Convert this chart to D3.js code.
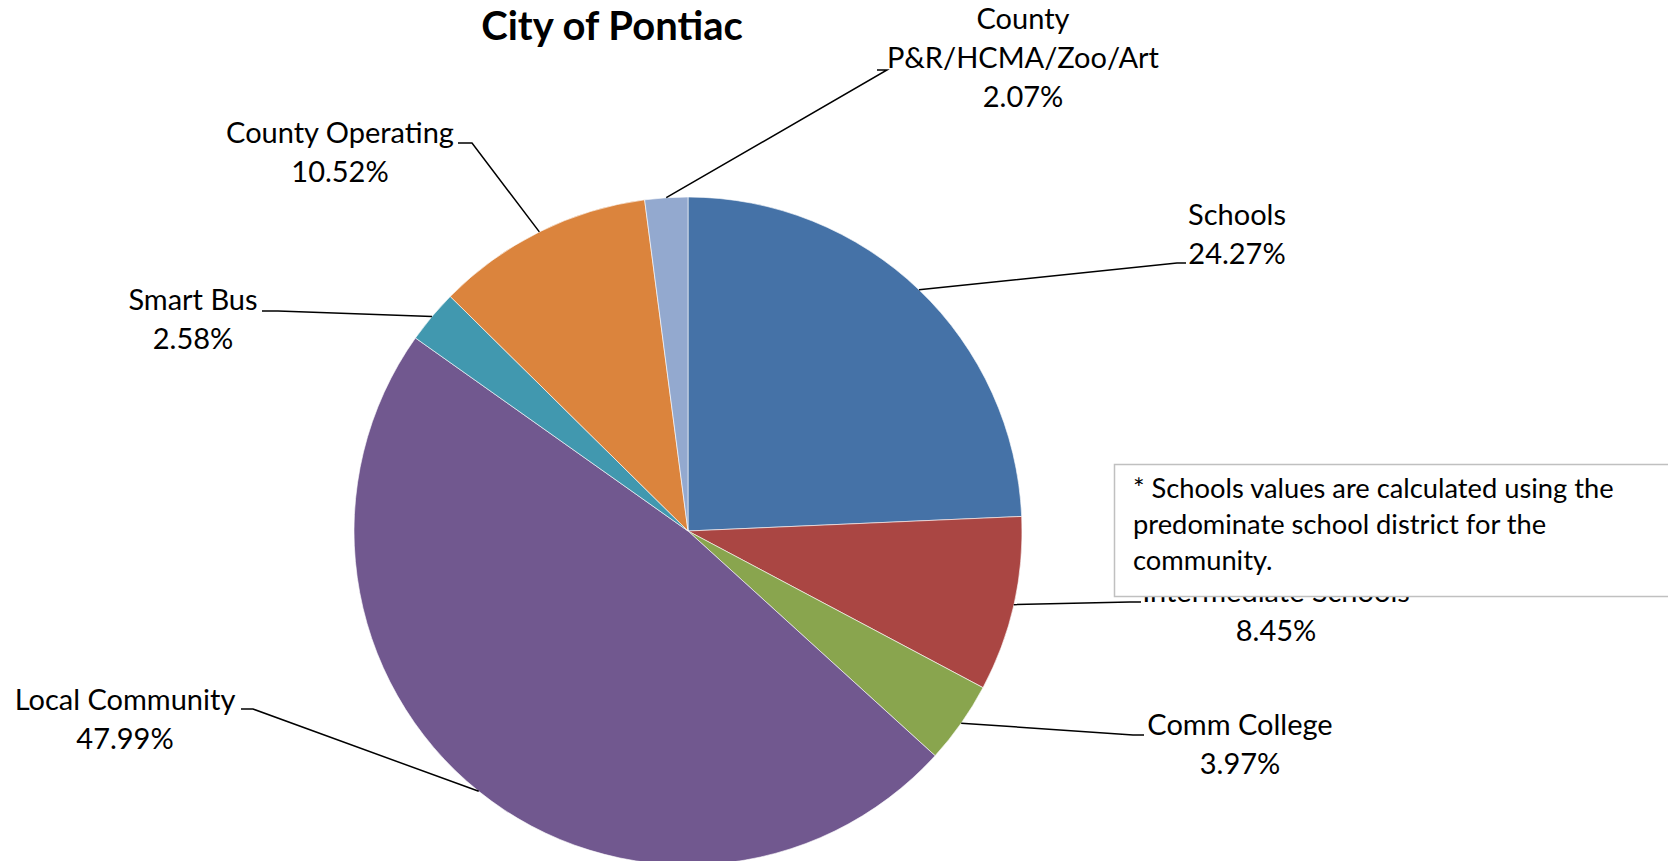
<!DOCTYPE html>
<html><head><meta charset="utf-8">
<script src="https://cdn.jsdelivr.net/npm/d3@7"></script>
<style>html,body{margin:0;padding:0;background:#fff;overflow:hidden}</style>
</head><body>
<svg id="chart" width="1668" height="861"></svg>
<script>
const title = "City of Pontiac";
const categories = ["Schools","Intermediate Schools","Comm College","Local Community","Smart Bus","County Operating","County P&R/HCMA/Zoo/Art"];
const values = [24.27, 8.45, 3.97, 47.99, 2.58, 10.52, 2.07];
const labelLines = [["Schools","24.27%"],["Intermediate Schools","8.45%"],["Comm College","3.97%"],["Local Community","47.99%"],["Smart Bus","2.58%"],["County Operating","10.52%"],["County","P&R/HCMA/Zoo/Art","2.07%"]];
const noteLines = ["* Schools values are calculated using the","predominate school district for the","community."];

// layout (not data)
const colors = ["#4572A7","#AA4643","#89A54E","#71588F","#4198AF","#DB843D","#93A9CF"];
const cx = 688, cy = 531, R = 334;
const fontFam = "Lato, 'Open Sans', sans-serif";
const fs = 29, lh = 39;
// label anchor: [x center, first baseline]; leader: [elbowX, elbowY, endX, endY]
const labelPos = [[1237,225],[1276,602],[1240,735],[125,710],[193,310],[340,143],[1023,29]];
const leader = [[1177,263,1186,263],[1130,602,1141,602],[1133,735,1144,735],[253,709,241,709],[278,311,262,311],[472,143,458,143],[887,70,877,70]];

const svg = d3.select("#chart");
const pie = d3.pie().value(d=>d).sort(null).startAngle(0).endAngle(2*Math.PI);
const arcs = pie(values);
const arc = d3.arc().innerRadius(0).outerRadius(R);
const g = svg.append("g").attr("transform",`translate(${cx},${cy})`);
g.selectAll("path").data(arcs).join("path")
  .attr("d",arc).attr("fill",(d,i)=>colors[i])
  .attr("stroke","rgba(255,255,255,0.6)").attr("stroke-width",1);

// leader lines
arcs.forEach((a,i)=>{
  const m = (a.startAngle+a.endAngle)/2;
  const px = cx + R*Math.sin(m), py = cy - R*Math.cos(m);
  const L = leader[i];
  svg.append("polyline")
    .attr("points",`${px},${py} ${L[0]},${L[1]} ${L[2]},${L[3]}`)
    .attr("fill","none").attr("stroke","#000").attr("stroke-width",1.5);
});

// labels
labelLines.forEach((lines,i)=>{
  const t = svg.append("text").attr("font-family",fontFam).attr("font-size",fs)
    .attr("text-anchor","middle").attr("fill","#000");
  lines.forEach((s,k)=>{
    t.append("tspan").attr("x",labelPos[i][0]).attr("y",labelPos[i][1]+k*lh).text(s);
  });
});

// title
svg.append("text").attr("x",612).attr("y",40).attr("text-anchor","middle")
  .attr("font-family",fontFam).attr("font-weight","bold").attr("font-size",40)
  .attr("fill","#000").text(title);

// note box
svg.append("rect").attr("x",1114.5).attr("y",464.5).attr("width",600).attr("height",132)
  .attr("fill","#fff").attr("stroke","#c0c0c0").attr("stroke-width",1.5);
const nt = svg.append("text").attr("font-family",fontFam).attr("font-size",27.3).attr("fill","#000");
noteLines.forEach((s,k)=>nt.append("tspan").attr("x",1133).attr("y",498+k*36).text(s));
</script>
</body></html>
